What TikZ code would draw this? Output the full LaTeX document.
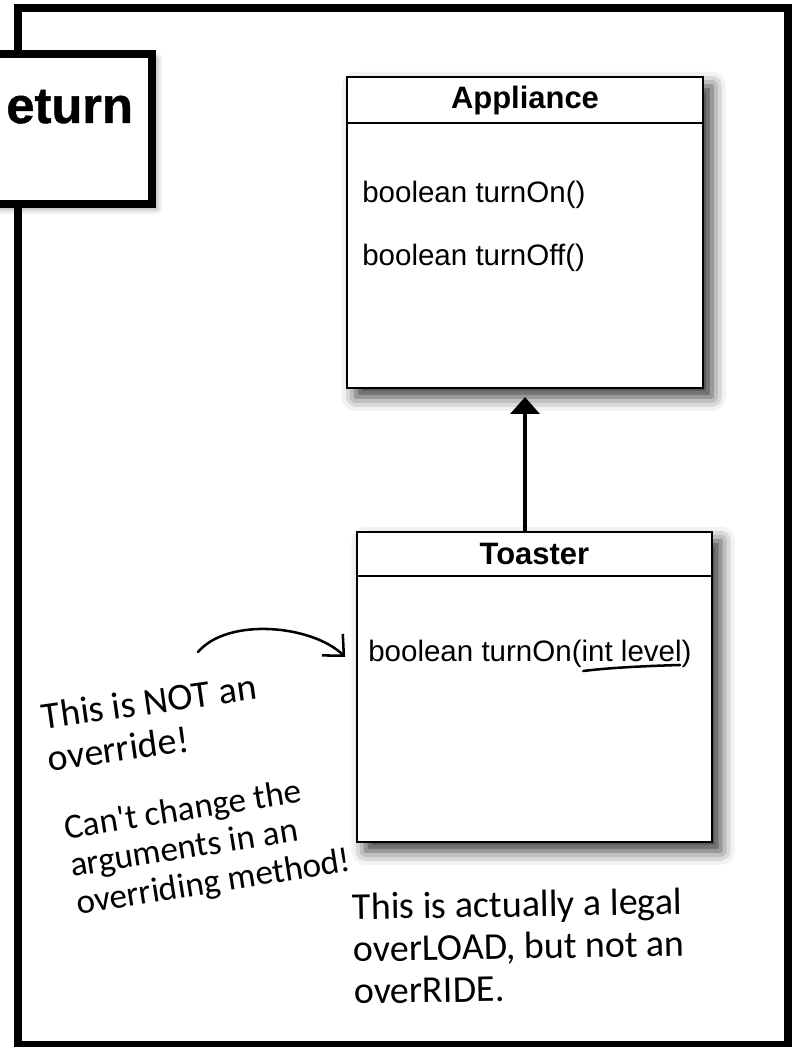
\documentclass[tikz,border=0pt]{standalone}
\usepackage{fontspec}
\setmainfont{Liberation Sans}
\newfontfamily\tabfont[FakeBold=1]{Liberation Sans Bold}
% hand-lettered notes
\newfontfamily\handnote{Carlito}
\usetikzlibrary{arrows.meta,positioning,calc,shadows.blur}

\begin{document}
\begin{tikzpicture}[
  classbox/.style={draw,line width=1.4pt,fill=white,minimum width=8.9cm,minimum height=7.75cm,
    blur shadow={shadow xshift=0.22cm,shadow yshift=-0.22cm,shadow blur radius=0.35cm,shadow opacity=80}},
  classname/.style={font=\fontsize{22}{26}\selectfont\bfseries,inner sep=0pt,anchor=base},
  method/.style={font=\fontsize{21}{25}\selectfont,inner sep=0pt,anchor=base west},
  note/.style={font=\handnote\fontsize{27}{30}\selectfont,align=left,inner sep=0pt,anchor=north west}]
  \useasboundingbox (0,0) rectangle (19.8,26.175);
  % page frame
  \draw[line width=5.7pt] (0.45,0.05) rectangle (19.7,25.975);
  % heading tab, cut off at the left margin
  \node[draw,line width=5.7pt,fill=white,minimum width=4.8cm,minimum height=3.75cm,
    blur shadow={shadow xshift=0.12cm,shadow yshift=-0.12cm,shadow blur radius=0.15cm,shadow opacity=40}]
    (tab) at (1.4,22.95) {};
  \node[font=\tabfont\fontsize{36}{40}\selectfont,inner sep=0pt,anchor=base east] (tabtitle) at (3.33,23.1) {eturn};
  % superclass
  \node[classbox,minimum height=7.775cm] (appliance) at (13.125,20.36) {};
  \draw[line width=1.4pt] ($(appliance.north west)+(0,-1.175)$) -- ($(appliance.north east)+(0,-1.175)$);
  \node[classname] (appliancename) at (13.125,23.47) {Appliance};
  \node[method] (turnon) at (9.05,21.1) {boolean turnOn()};
  \node[method] (turnoff) at (9.05,19.53) {boolean turnOff()};
  % subclass
  \node[classbox,minimum width=8.875cm] (toaster) at (13.36,9.0) {};
  \draw[line width=1.4pt] ($(toaster.north west)+(0,-1.125)$) -- ($(toaster.north east)+(0,-1.125)$);
  \node[classname] (toastername) at (13.36,12.05) {Toaster};
  \node[method] (turnonlevel) at (9.2,9.63) {boolean turnOn(int level)};
  % pen stroke under the argument list
  \draw[line width=1.8pt,line cap=round] (14.58,9.40) .. controls (15.3,9.49) and (16.3,9.53) .. (17.0,9.55);
  % inheritance
  \draw[-{Triangle[width=0.72cm,length=0.42cm]},line width=2.5pt,shorten >=0.2cm] (toaster.north -| appliance.south) -- (appliance.south);
  % handwritten remarks
  \coordinate (bendfrom) at (4.95,9.875);
  \coordinate (bendto) at (8.63,9.75);
  \draw[-{Straight Barb[length=0.4cm,width=0.75cm]},line width=1.8pt,line cap=round] (bendfrom) .. controls (5.7,10.75) and (7.8,10.55) .. (bendto);
  \node[note,rotate=8] (notoverride) at (1.0,8.6) {This is NOT an\\override!};
  \node[note,rotate=9,font=\handnote\fontsize{25}{27}\selectfont] (cantchange) at (1.55,5.8) {Can't change the\\arguments in an\\overriding method!};
  \node[note,rotate=1] (legaloverload) at (8.8,3.85) {This is actually a legal\\overLOAD, but not an\\overRIDE.};
\end{tikzpicture}
\end{document}
